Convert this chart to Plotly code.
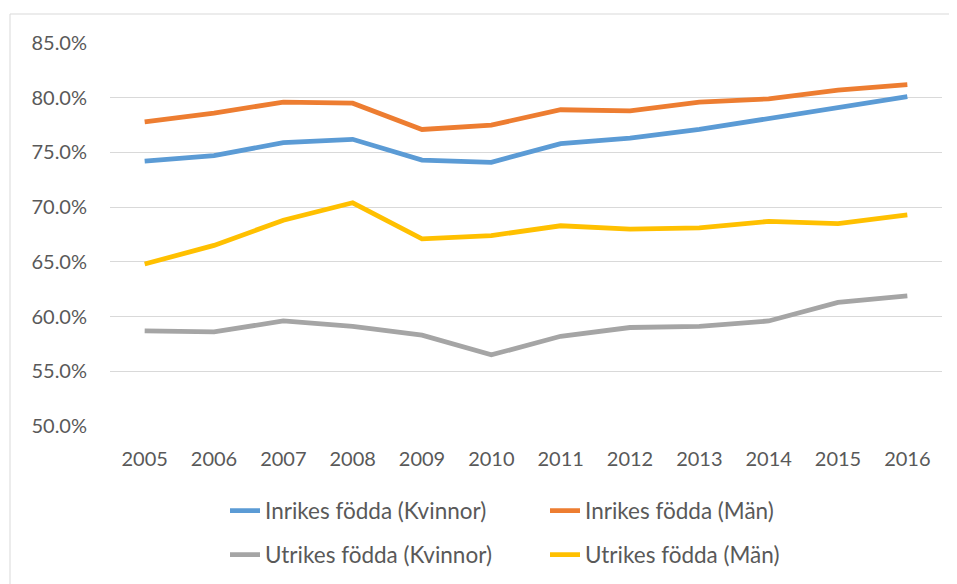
import plotly.graph_objects as go

years = ["2005", "2006", "2007", "2008", "2009", "2010", "2011", "2012", "2013", "2014", "2015", "2016"]
inrikes_kvinnor = [74.2, 74.7, 75.9, 76.2, 74.3, 74.1, 75.8, 76.3, 77.1, 78.1, 79.0, 80.1]
inrikes_man = [77.8, 78.6, 79.6, 79.5, 77.1, 77.5, 78.9, 78.8, 79.6, 79.9, 80.7, 81.2]
utrikes_kvinnor = [58.7, 58.6, 59.6, 59.1, 58.3, 56.5, 58.2, 59.0, 59.1, 59.6, 61.3, 61.9]
utrikes_man = [64.8, 66.5, 68.8, 70.4, 67.1, 67.4, 68.3, 68.0, 68.1, 68.7, 68.5, 69.3]

series = [
    ("Inrikes födda (Kvinnor)", inrikes_kvinnor, "#5B9BD5", "legend"),
    ("Inrikes födda (Män)", inrikes_man, "#ED7D31", "legend"),
    ("Utrikes födda (Kvinnor)", utrikes_kvinnor, "#A5A5A5", "legend2"),
    ("Utrikes födda (Män)", utrikes_man, "#FFC000", "legend2"),
]

FONT = "Lato, Liberation Sans, sans-serif"
TXT = "#595959"

fig = go.Figure()
for name, vals, color, lg in series:
    fig.add_trace(go.Scatter(
        x=years, y=vals, name=name, mode="lines",
        line=dict(color=color, width=4.8),
        legend=lg, hoverinfo="skip",
    ))

OFF = 8  # page body margin
W, H = 957 - OFF, 584 - OFF
L, T = 110 - OFF, 43 - OFF
R = W - (942 - OFF)
B = H - (426 - OFF)
pw = W - L - R
ph = H - T - B

def px_x(x):
    return (x - OFF - L) / pw

def px_y(y):
    return 1 - (y - OFF - T) / ph

legend_common = dict(
    orientation="h", xanchor="left", yanchor="middle",
    entrywidth=275, entrywidthmode="pixels",
    font=dict(family=FONT, size=22.5, color=TXT),
    bgcolor="rgba(0,0,0,0)",
)

border = dict(color="#D9D9D9", width=1)

fig.update_layout(
    width=W, height=H,
    margin=dict(l=L, r=R, t=T, b=B, autoexpand=False),
    paper_bgcolor="white", plot_bgcolor="white",
    font=dict(family=FONT, size=20, color=TXT),
    showlegend=True,
    legend=dict(x=px_x(225), y=px_y(511), **legend_common),
    legend2=dict(x=px_x(225), y=px_y(555), **legend_common),
    xaxis=dict(
        type="category", range=[-0.5, 11.5], showgrid=False,
        showline=False, zeroline=False, ticks="",
        tickfont=dict(family=FONT, size=20, color=TXT),
        ticklabelstandoff=19,
    ),
    yaxis=dict(
        range=[50, 85], dtick=5, tick0=50, tickformat=".1f", ticksuffix="%",
        showgrid=True, gridcolor="#D9D9D9", gridwidth=1,
        showline=False, zeroline=False, ticks="",
        tickfont=dict(family=FONT, size=20, color=TXT),
        ticklabelstandoff=22,
    ),
    shapes=[
        dict(type="line", xref="paper", yref="paper",
             x0=px_x(10), x1=px_x(1000), y0=px_y(14), y1=px_y(14),
             line=border, layer="below"),
        dict(type="line", xref="paper", yref="paper",
             x0=px_x(10), x1=px_x(10), y0=px_y(14), y1=px_y(700),
             line=border, layer="below"),
    ],
)

fig.write_html("out.html")
